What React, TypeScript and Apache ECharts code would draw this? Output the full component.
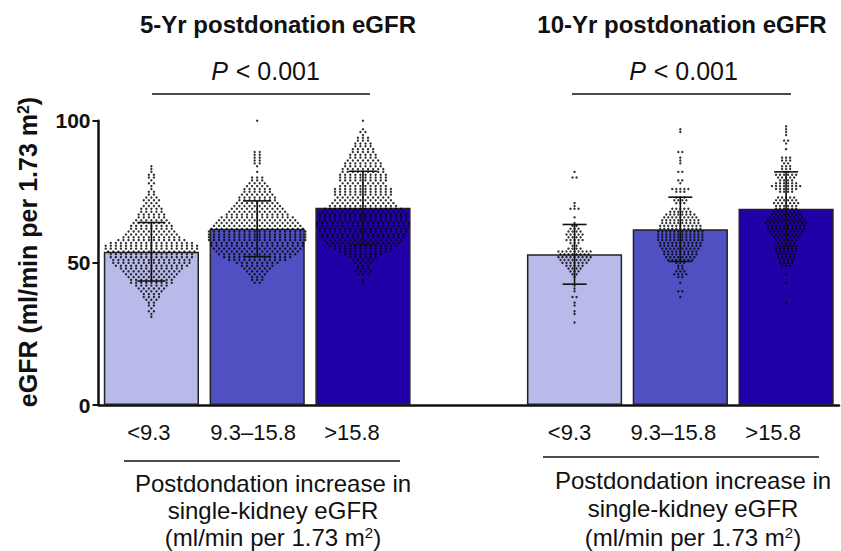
import React, { useEffect, useRef } from "react";
import * as echarts from "echarts";

// ---- data ----
const categories = ["<9.3", "9.3–15.8", ">15.8", "", "<9.3", "9.3–15.8", ">15.8"];
const means5 = [53.9, 62.0, 69.4];
const sd5 = [10.3, 9.8, 12.8];
const means10 = [53.0, 61.8, 69.0];
const sd10 = [10.5, 11.3, 13.0];
const yMin = 0;
const yMax = 100;
const yInterval = 50;

// individual values as [eGFR, number of donors at that value]
const rows5Low: number[][] = [
  [84, 1], [83, 1], [82, 1], [81, 2], [80, 2], [79, 1], [78, 2], [77, 1], [76, 1], [75, 2], [74, 2], [73, 3],
  [72, 4], [71, 3], [70, 4], [69, 5], [68, 5], [67, 6], [66, 6], [65, 7], [64, 8], [63, 9], [62, 9], [61, 10],
  [60, 11], [59, 12], [58, 14], [57, 17], [56, 19], [55, 19], [54, 18], [53, 17], [52, 17], [51, 16], [50, 16],
  [49, 15], [48, 13], [47, 12], [46, 11], [45, 10], [44, 9], [43, 9], [42, 7], [41, 6], [40, 5], [39, 4],
  [38, 4], [37, 3], [36, 2], [35, 2], [34, 1], [33, 2], [32, 1], [31, 1],
];
const rows5Mid: number[][] = [
  [100, 1], [89, 2], [88, 2], [87, 2], [86, 2], [85, 2], [84, 1], [82, 1], [80, 3], [79, 3], [78, 4], [77, 5],
  [76, 6], [75, 6], [74, 7], [73, 8], [72, 8], [71, 9], [70, 10], [69, 11], [68, 12], [67, 13], [66, 15],
  [65, 16], [64, 17], [63, 18], [62, 19], [61, 20], [60, 20], [59, 20], [58, 20], [57, 19], [56, 19], [55, 18],
  [54, 17], [53, 16], [52, 14], [51, 12], [50, 9], [49, 7], [48, 6], [47, 5], [46, 4], [45, 3], [44, 3], [43, 2],
];
const rows5High: number[][] = [
  [100, 1], [97, 1], [96, 2], [95, 1], [94, 3], [93, 3], [92, 4], [91, 4], [90, 5], [89, 5], [88, 6], [87, 6],
  [86, 7], [85, 8], [84, 8], [83, 9], [82, 9], [81, 10], [80, 10], [79, 10], [78, 9], [77, 10], [76, 12],
  [75, 12], [74, 12], [73, 11], [72, 12], [71, 13], [70, 14], [69, 16], [68, 17], [67, 18], [66, 18], [65, 18],
  [64, 19], [63, 19], [62, 18], [61, 18], [60, 17], [59, 17], [58, 16], [57, 15], [56, 14], [55, 12], [54, 10],
  [53, 8], [52, 6], [51, 5], [50, 4], [49, 3], [48, 3], [47, 4], [46, 3], [44, 1], [43, 1],
];
const rows10Low: number[][] = [
  [82, 1], [80, 2], [71, 1], [70, 1], [69, 3], [66, 1], [64, 1], [63, 2], [62, 3], [61, 4], [60, 5], [59, 4],
  [58, 5], [57, 3], [56, 2], [55, 4], [54, 9], [53, 8], [52, 9], [51, 8], [50, 7], [49, 5], [48, 4], [47, 3],
  [46, 2], [45, 1], [42, 1], [41, 1], [40, 1], [38, 2], [36, 1], [35, 1], [33, 1], [32, 1], [29, 1],
];
const rows10Mid: number[][] = [
  [97, 1], [96, 1], [89, 2], [87, 1], [86, 1], [85, 1], [82, 2], [79, 2], [78, 1], [76, 5], [75, 3], [73, 3],
  [72, 4], [71, 3], [69, 5], [68, 6], [67, 8], [66, 9], [65, 10], [64, 10], [63, 11], [62, 11], [61, 12],
  [60, 12], [59, 12], [58, 12], [57, 11], [56, 11], [55, 10], [54, 9], [53, 9], [52, 8], [51, 7], [50, 3],
  [49, 2], [48, 2], [47, 3], [46, 4], [45, 2], [43, 1], [40, 2], [38, 1],
];
const rows10High: number[][] = [
  [98, 1], [97, 1], [96, 1], [95, 1], [93, 2], [92, 1], [90, 1], [87, 3], [86, 3], [85, 2], [84, 3], [83, 3],
  [82, 2], [81, 6], [80, 5], [79, 4], [78, 6], [77, 8], [76, 6], [75, 4], [73, 5], [72, 6], [71, 7], [70, 6],
  [69, 6], [68, 7], [67, 8], [66, 9], [65, 10], [64, 11], [63, 10], [62, 10], [61, 9], [60, 8], [59, 7], [58, 6],
  [57, 5], [56, 4], [55, 6], [54, 6], [53, 5], [52, 5], [51, 4], [50, 4], [49, 3], [46, 1], [43, 1], [36, 1],
];

const titles = ["5-Yr postdonation eGFR", "10-Yr postdonation eGFR"];
const pText = "< 0.001";
const xTitleLines = ["Postdondation increase in", "single-kidney eGFR"];

// ---- styling ----
const FONT = "'Liberation Sans', Arial, Helvetica, sans-serif";
const barColors = ["#b8bae9", "#5050c2", "#2200a8"];
const groupPos = [0, 1, 2, 4, 5, 6];
const groupRows = [rows5Low, rows5Mid, rows5High, rows10Low, rows10Mid, rows10High];
const labelShift = [5, 8, 22, 0, 10, 14, 26];

export default function App() {
  const ref = useRef<HTMLDivElement>(null);
  useEffect(() => {
    if (!ref.current) return;
    const chart = echarts.init(ref.current, null, { renderer: "svg" });

    const means = [...means5, ...means10];
    const sds = [...sd5, ...sd10];

    const barData: any[] = [];
    let g = 0;
    for (let c = 0; c < categories.length; c++) {
      if (categories[c] === "") {
        barData.push("-");
      } else {
        barData.push({ value: means[g], itemStyle: { color: barColors[g % 3] } });
        g++;
      }
    }

    const dots: number[][] = [];
    groupRows.forEach((rows, gi) => {
      const dx = gi < 3 ? 0.048 : 0.038;
      rows.forEach(([v, n]) => {
        for (let i = 0; i < n; i++) {
          dots.push([groupPos[gi] + (i - (n - 1) / 2) * dx, v]);
        }
      });
    });

    const errData = groupPos.map((p, i) => [p, means[i] - sds[i], means[i] + sds[i], i < 3 ? 14 : 12]);

    const rich: any = {};
    labelShift.forEach((s, i) => {
      rich["s" + i] = { fontFamily: FONT, fontSize: 22, color: "#111", padding: [0, s, 0, 0] };
    });

    const option: any = {
      animation: false,
      backgroundColor: "#fff",
      grid: { left: 98.5, right: 2, top: 120.7, bottom: 146, containLabel: false },
      xAxis: [
        {
          type: "category",
          data: categories,
          axisLine: { lineStyle: { color: "#111", width: 2.5 } },
          axisTick: { show: false },
          axisLabel: {
            margin: 16,
            interval: 0,
            formatter: (v: string, i: number) => (v ? `{s${i}|${v}}` : ""),
            rich,
          },
        },
        { type: "value", min: -0.5, max: 6.5, show: false },
      ],
      yAxis: {
        type: "value",
        min: yMin,
        max: yMax,
        interval: yInterval,
        splitLine: { show: false },
        axisLine: { show: true, onZero: false, lineStyle: { color: "#111", width: 2.5 } },
        axisTick: { show: true, length: 6, lineStyle: { color: "#111", width: 2 } },
        axisLabel: { fontFamily: FONT, fontSize: 21, fontWeight: "bold", color: "#111", margin: 8 },
      },
      series: [
        {
          type: "bar",
          xAxisIndex: 0,
          data: barData,
          barCategoryGap: "10%",
          itemStyle: { borderColor: "#222", borderWidth: 1.5 },
          z: 1,
        },
        {
          type: "scatter",
          xAxisIndex: 1,
          data: dots,
          symbol: "circle",
          symbolSize: 2.4,
          itemStyle: { color: "#000" },
          z: 3,
        },
        {
          type: "custom",
          xAxisIndex: 1,
          data: errData,
          encode: { x: 0, y: [1, 2] },
          z: 4,
          renderItem: (params: any, api: any) => {
            const x = api.value(0);
            const lo = api.coord([x, api.value(1)]);
            const hi = api.coord([x, api.value(2)]);
            const w = api.value(3);
            const st = { stroke: "#111", lineWidth: 1.6 };
            return {
              type: "group",
              children: [
                { type: "line", shape: { x1: hi[0], y1: hi[1], x2: lo[0], y2: lo[1] }, style: st },
                { type: "line", shape: { x1: hi[0] - w, y1: hi[1], x2: hi[0] + w, y2: hi[1] }, style: st },
                { type: "line", shape: { x1: lo[0] - w, y1: lo[1], x2: lo[0] + w, y2: lo[1] }, style: st },
              ],
            };
          },
        },
      ],
      graphic: [
        {
          type: "text",
          x: 278, y: 24,
          style: { text: titles[0], font: `bold 24px ${FONT}`, fill: "#111", align: "center", verticalAlign: "middle" },
        },
        {
          type: "text",
          x: 682, y: 24,
          style: { text: titles[1], font: `bold 24px ${FONT}`, fill: "#111", align: "center", verticalAlign: "middle" },
        },
        ...[265.5, 683.5].map((cx) => ({
          type: "text",
          x: cx, y: 71,
          style: {
            text: `{i|P}{n| ${pText}}`,
            align: "center", verticalAlign: "middle",
            rich: {
              i: { font: `italic 25px ${FONT}`, fill: "#111", padding: [0, 1, 0, 0] },
              n: { font: `25px ${FONT}`, fill: "#111" },
            },
          },
        })),
        { type: "line", shape: { x1: 152, y1: 94, x2: 370, y2: 94 }, style: { stroke: "#111", lineWidth: 1.5 } },
        { type: "line", shape: { x1: 572, y1: 94, x2: 791, y2: 94 }, style: { stroke: "#111", lineWidth: 1.5 } },
        { type: "line", shape: { x1: 124, y1: 461, x2: 400, y2: 461 }, style: { stroke: "#111", lineWidth: 1.5 } },
        { type: "line", shape: { x1: 543, y1: 457, x2: 819, y2: 457 }, style: { stroke: "#111", lineWidth: 1.5 } },
        ...[
          [273, 483, 510, 537],
          [693, 480, 508, 537],
        ].flatMap(([cx, y1, y2, y3]) => [
          { type: "text", x: cx, y: y1, style: { text: xTitleLines[0], font: `24px ${FONT}`, fill: "#111", align: "center", verticalAlign: "middle" } },
          { type: "text", x: cx, y: y2, style: { text: xTitleLines[1], font: `24px ${FONT}`, fill: "#111", align: "center", verticalAlign: "middle" } },
          {
            type: "text", x: cx, y: y3,
            style: {
              text: "{n|(ml/min per 1.73 m}{s|2}{n|)}",
              align: "center", verticalAlign: "middle",
              rich: {
                n: { font: `24px ${FONT}`, fill: "#111" },
                s: { font: `15px ${FONT}`, fill: "#111", padding: [0, 0, 10, 0] },
              },
            },
          },
        ]),
        {
          type: "text",
          x: 28, y: 252,
          rotation: Math.PI / 2,
          style: {
            text: "{n|eGFR (ml/min per 1.73 m}{s|2}{n|)}",
            align: "center", verticalAlign: "middle",
            rich: {
              n: { font: `bold 25px ${FONT}`, fill: "#111" },
              s: { font: `bold 16px ${FONT}`, fill: "#111", padding: [0, 0, 10, 0] },
            },
          },
        },
      ],
    };
    chart.setOption(option);
    return () => chart.dispose();
  }, []);
  return <div ref={ref} style={{ position: "absolute", left: 0, top: 0, width: 841, height: 551 }} />;
}
